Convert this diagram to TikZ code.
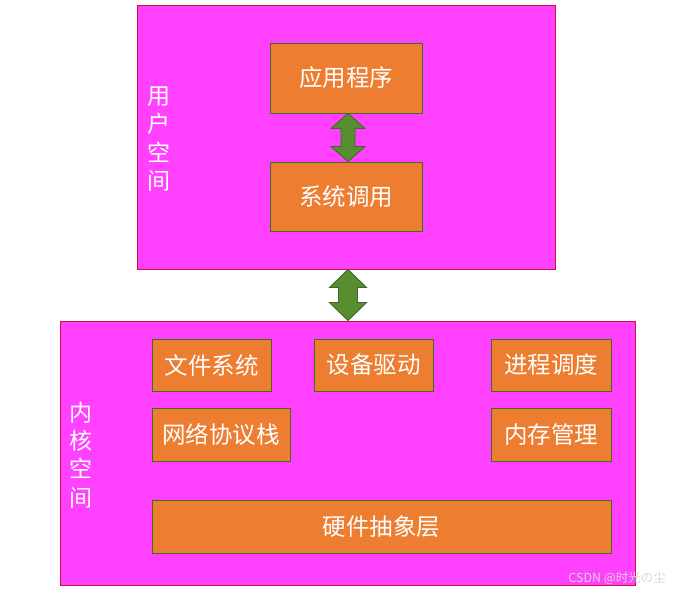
\documentclass[tikz,border=0pt]{standalone}
\usepackage{fontspec}
\setmainfont{Noto Sans CJK SC}
\usetikzlibrary{calc}
\definecolor{mag}{HTML}{FF40FF}
\definecolor{magline}{HTML}{C8143C}
\definecolor{orng}{HTML}{ED7D31}
\definecolor{grnline}{HTML}{3B6E22}
\definecolor{arrfill}{HTML}{578E32}
\definecolor{arrline}{HTML}{41682A}
\definecolor{wmark}{HTML}{D8D8D8}
\tikzset{
  space/.style={draw=magline, fill=mag, line width=0.9pt, inner sep=0pt},
  box/.style={draw=grnline, fill=orng, line width=0.9pt, inner sep=0pt, text=white,
    font=\fontsize{23.5}{28}\selectfont},
  vlabel/.style={text=white, align=center, inner sep=0pt, font=\fontsize{23}{28.3}\selectfont},
  arrowshape/.style={draw=arrline, fill=arrfill, line width=0.9pt, line join=miter}
}
\newcommand\vdblarrow[5]{%
  \draw[arrowshape] (#1) -- ($(#1)+(#3,#5)$) -- ($(#1)+(#4,#5)$) -- ($(#2)+(#4,-#5)$)
    -- ($(#2)+(#3,-#5)$) -- (#2) -- ($(#2)+(-#3,-#5)$) -- ($(#2)+(-#4,-#5)$)
    -- ($(#1)+(-#4,#5)$) -- ($(#1)+(-#3,#5)$) -- cycle;}
\begin{document}
\begin{tikzpicture}[x=1pt,y=-1pt]
\useasboundingbox[fill=white] (0,0) rectangle (674,593);
% user space
\node[space, minimum width=418, minimum height=264] (user) at (346,137) {};
\node[vlabel] (ulabel) at (159,139) {用\\户\\空\\间};
\node[box, minimum width=152, minimum height=70] (app) at (346,78) {应用程序};
\node[box, minimum width=152, minimum height=69] (sys) at (346,196.5) {系统调用};
% kernel space
\node[space, minimum width=575, minimum height=264] (kernel) at (347.5,453) {};
\node[vlabel] (klabel) at (81,455) {内\\核\\空\\间};
\node[box, minimum width=119, minimum height=52] (fs) at (211.5,365) {文件系统};
\node[box, minimum width=119, minimum height=52] (dev) at (373.5,365) {设备驱动};
\node[box, minimum width=120, minimum height=52] (sched) at (551,365) {进程调度};
\node[box, minimum width=138, minimum height=53] (net) at (221,434.5) {网络协议栈};
\node[box, minimum width=120, minimum height=53] (mem) at (551,434.5) {内存管理};
\node[box, minimum width=459, minimum height=53] (hal) at (381.5,526.5) {硬件抽象层};
% arrows
\coordinate (a1t) at ($(app.south)+(2,0)$);
\coordinate (a1b) at (a1t |- sys.north);
\vdblarrow{a1t}{a1b}{17}{7}{15}
\coordinate (a2t) at ($(user.south)+(2,0)$);
\coordinate (a2b) at (a2t |- kernel.north);
\vdblarrow{a2t}{a2b}{18.5}{9.5}{18}
% watermark
\node[text=wmark, anchor=east, inner sep=0pt, font=\fontsize{12.5}{14}\selectfont] (wm) at (666,578) {CSDN @时光の尘};
\end{tikzpicture}
\end{document}
